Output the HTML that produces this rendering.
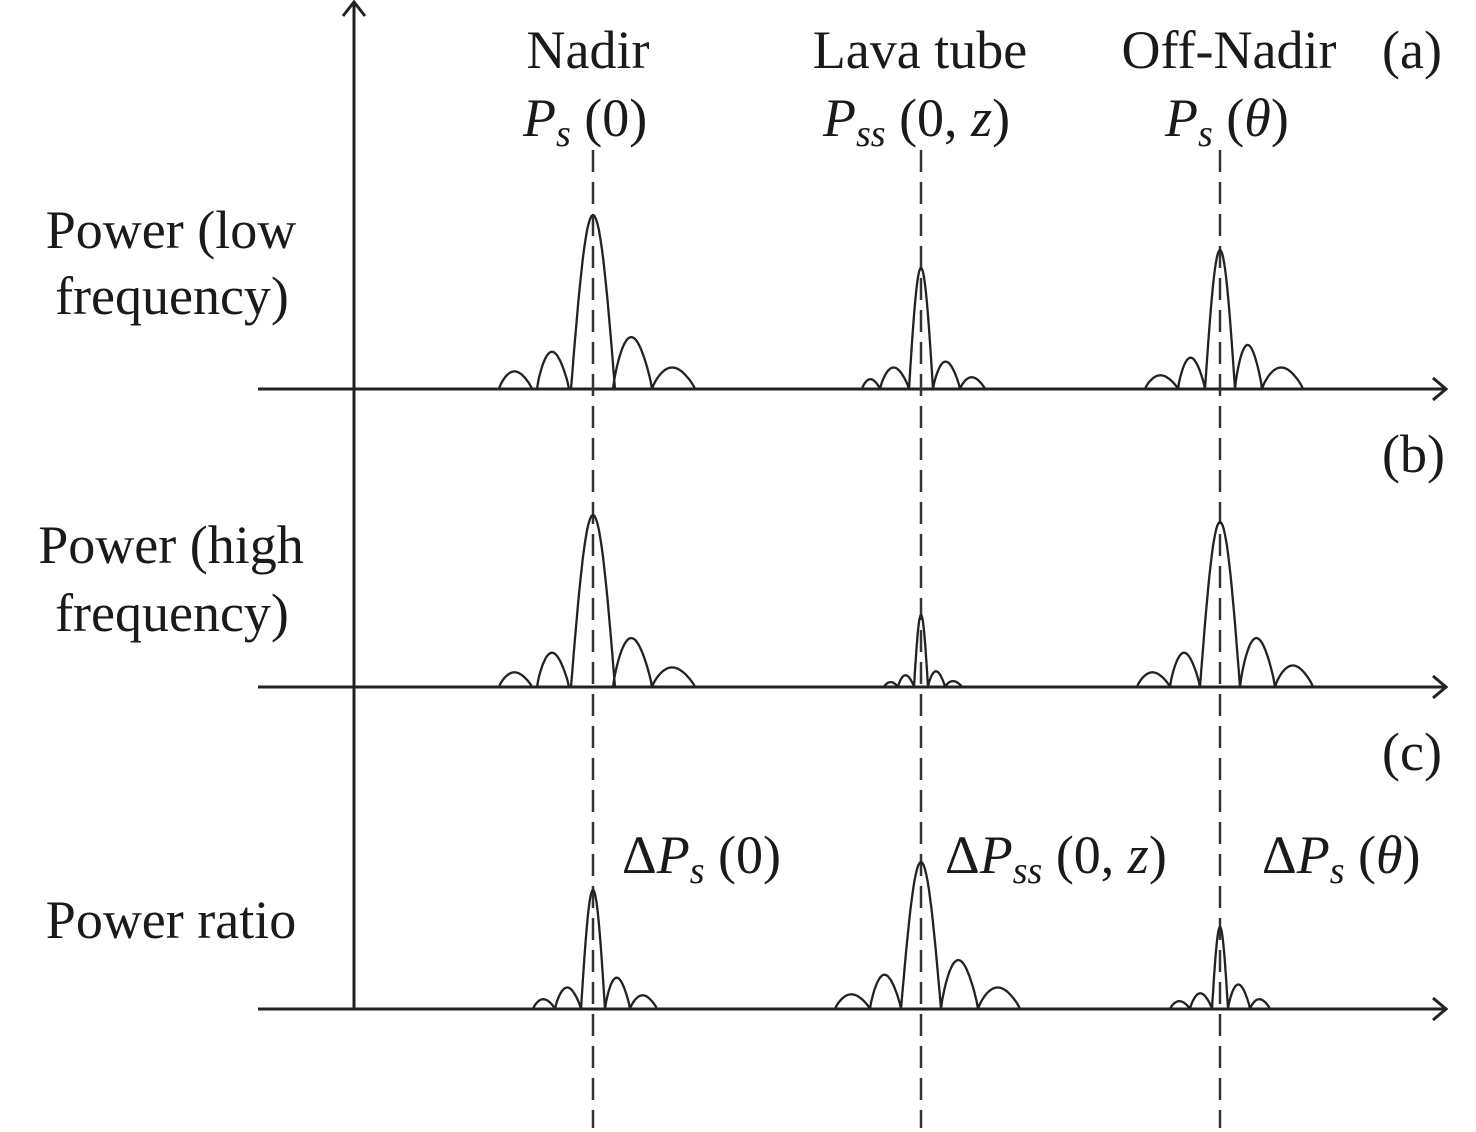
<!DOCTYPE html>
<html><head><meta charset="utf-8"><style>
html,body{margin:0;padding:0;background:#fff;}
svg{display:block;}
text{font-family:"Liberation Serif",serif;fill:#1a1a1a;}
</style></head><body>
<svg id="s" width="1476" height="1132" viewBox="0 0 1476 1132" xmlns="http://www.w3.org/2000/svg">
<g stroke="#222" stroke-width="3" fill="none">
<line x1="354" y1="2" x2="354" y2="1010"/>
<polyline points="343,16 354,2 365,16"/>
<line x1="258" y1="389" x2="1445" y2="389"/><polyline points="1433,378 1446,389 1433,400"/>
<line x1="258" y1="687" x2="1445" y2="687"/><polyline points="1433,676 1446,687 1433,698"/>
<line x1="258" y1="1009" x2="1445" y2="1009"/><polyline points="1433,998 1446,1009 1433,1020"/>
</g>
<g stroke="#333" stroke-width="2.5" stroke-dasharray="22,10">
<line x1="593" y1="150" x2="593" y2="1128"/>
<line x1="921" y1="150" x2="921" y2="1128"/>
<line x1="1220" y1="150" x2="1220" y2="1128"/>
</g>
<g id="peaks" stroke="#222" stroke-width="2.3" fill="none"></g>
<g font-size="54">
<text x="588" y="68" text-anchor="middle">Nadir</text>
<text x="920" y="68" text-anchor="middle">Lava tube</text>
<text x="1229" y="68" text-anchor="middle">Off-Nadir</text>
<text x="1382" y="68">(a)</text>
<text x="1382" y="472">(b)</text>
<text x="1382" y="770">(c)</text>
<text x="523" y="136"><tspan font-style="italic">P</tspan><tspan font-style="italic" font-size="38" dy="10">s</tspan><tspan dy="-10"> (0)</tspan></text>
<text x="823" y="136"><tspan font-style="italic">P</tspan><tspan font-style="italic" font-size="38" dy="10">ss</tspan><tspan dy="-10"> (0, </tspan><tspan font-style="italic">z</tspan>)</text>
<text x="1165" y="136"><tspan font-style="italic">P</tspan><tspan font-style="italic" font-size="38" dy="10">s</tspan><tspan dy="-10"> (</tspan><tspan font-style="italic">θ</tspan>)</text>
<text x="622" y="873">Δ<tspan font-style="italic">P</tspan><tspan font-style="italic" font-size="38" dy="10">s</tspan><tspan dy="-10"> (0)</tspan></text>
<text x="945" y="873">Δ<tspan font-style="italic">P</tspan><tspan font-style="italic" font-size="38" dy="10">ss</tspan><tspan dy="-10"> (0, </tspan><tspan font-style="italic">z</tspan>)</text>
<text x="1262" y="873">Δ<tspan font-style="italic">P</tspan><tspan font-style="italic" font-size="38" dy="10">s</tspan><tspan dy="-10"> (</tspan><tspan font-style="italic">θ</tspan>)</text>
<text x="171" y="248" text-anchor="middle">Power (low</text>
<text x="172" y="314" text-anchor="middle">frequency)</text>
<text x="171" y="563" text-anchor="middle">Power (high</text>
<text x="172" y="631" text-anchor="middle">frequency)</text>
<text x="171" y="938" text-anchor="middle">Power ratio</text>
</g>
</svg>
<script>
var P=[
[593,389,174,22,[[537,569,38],[499,532,18]],[[613,652,53],[652,695,22]]],
[921,389,121,12,[[880,909,22],[862,880,10]],[[933,960,28],[960,985,12]]],
[1220,389,139,15,[[1178,1205,32],[1145,1178,14]],[[1235,1262,45],[1262,1303,22]]],
[593,687,172,22,[[537,569,35],[499,532,15]],[[613,652,50],[652,695,20]]],
[921,687,72,7,[[898,914,12],[884,898,5]],[[928,945,16],[945,962,6]]],
[1220,687,165,20,[[1170,1200,35],[1137,1170,15]],[[1240,1275,50],[1275,1313,22]]],
[593,1009,119,12,[[555,581,22],[533,555,10]],[[605,630,32],[630,657,14]]],
[921,1009,147,20,[[870,901,35],[835,870,15]],[[941,978,50],[978,1020,22]]],
[1220,1009,82,8,[[1190,1212,16],[1170,1190,8]],[[1228,1250,25],[1250,1270,10]]]];
var g=document.getElementById('peaks'),ns='http://www.w3.org/2000/svg';
function lobe(x0,x1,y,h,main){var d='';for(var i=0;i<=30;i++){var t=i/30,x=x0+(x1-x0)*t;var v=main?Math.sin(Math.PI*t):Math.pow(Math.sin(Math.PI*t),0.8)*(1-0.25*(t-0.4));d+=(i?'L':'M')+x.toFixed(1)+','+(y-h*v).toFixed(1);}return d;}
P.forEach(function(p){var c=p[0],y=p[1],d='';d+=lobe(c-p[3],c+p[3],y,p[2],1);
p[4].concat(p[5]).forEach(function(l){d+=lobe(l[0],l[1],y,l[2],0);});
var e=document.createElementNS(ns,'path');e.setAttribute('d',d);g.appendChild(e);});
</script>
</body></html>
